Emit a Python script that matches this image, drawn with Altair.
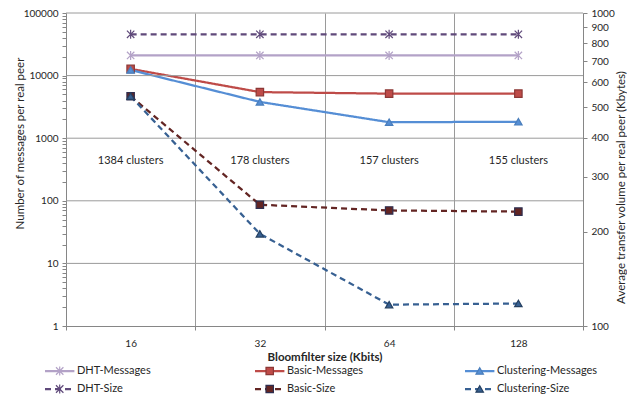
import altair as alt
import pandas as pd

# ---------------- data ----------------
categories = ["16", "32", "64", "128"]
series_names = ["DHT-Messages", "Basic-Messages", "Clustering-Messages",
                "DHT-Size", "Basic-Size", "Clustering-Size"]
dht_messages = [21000, 21000, 21000, 21000]
basic_messages = [12800, 5450, 5150, 5150]
clustering_messages = [12300, 3800, 1800, 1830]
dht_size = [855, 855, 855, 855]
basic_size = [542, 244, 234, 232]
clustering_size = [542, 197, 117, 118]
cluster_labels = ["1384  clusters", "178  clusters", "157 clusters", "155 clusters"]
cluster_label_level = 430
left_major_ticks = [1, 10, 100, 1000, 10000, 100000]
right_ticks = [100, 200, 300, 400, 500, 600, 700, 800, 900, 1000]

# ---------------- styles ----------------
line_colors = ["#B3A2C7", "#BE4B48", "#558ED5", "#604A7B", "#632523", "#376092"]
marker_borders = ["#B3A2C7", "#8C3836", "#4A7EBB", "#604A7B", "#2E2E4F", "#254061"]
dashes = [[1, 0], [1, 0], [1, 0], [6, 4], [6, 4], [6, 4]]
asterisk = "M-1,-1L1,1M-1,1L1,-1M0,-1.2L0,1.2"
shapes = [asterisk, "square", "triangle-up", asterisk, "square", "triangle-up"]
GRID = "#9A9A9A"
AXIS = "#868686"
TXT = "#262626"

msgs_df = pd.DataFrame({
    "cat": categories * 3,
    "series": [s for s in series_names[:3] for _ in categories],
    "value": dht_messages + basic_messages + clustering_messages,
})
size_df = pd.DataFrame({
    "cat": categories * 3,
    "series": [s for s in series_names[3:] for _ in categories],
    "value": dht_size + basic_size + clustering_size,
})
label_df = pd.DataFrame({"cat": categories, "label": cluster_labels,
                         "value": [cluster_label_level] * len(categories)})
grid_df = pd.DataFrame({"value": left_major_ticks[1:]})
legend_df = pd.DataFrame({
    "series": series_names,
    "col": [i % 3 for i in range(len(series_names))],
    "row": [i // 3 for i in range(len(series_names))],
})

left_tick_values = [m * 10 ** k for k in range(5) for m in range(1, 10)] + [100000]

color_scale = alt.Scale(domain=series_names, range=line_colors)
stroke_scale = alt.Scale(domain=series_names, range=marker_borders)
dash_scale = alt.Scale(domain=series_names, range=dashes)
shape_scale = alt.Scale(domain=series_names, range=shapes)

x_enc = alt.X(
    "cat:O",
    bandPosition=0.5,
    scale=alt.Scale(type="band", domain=categories, paddingInner=0, paddingOuter=0),
    axis=alt.Axis(
        title="Bloomfilter size (Kbits)", titleFontWeight="bold", titleFontSize=11.5,
        titlePadding=3, labelAngle=0, labelFontSize=10, labelPadding=8,
        tickBand="extent", grid=True, gridColor=GRID, gridWidth=1,
        domainColor=AXIS, tickColor=AXIS, tickSize=4,
    ),
)

y_left_scale = alt.Scale(type="log", domain=[1, 100000])
y_right_scale = alt.Scale(type="log", domain=[100, 1000])

left_axis = alt.Axis(
    orient="left", title="Number of messages per real peer", titleFontSize=11.5,
    titleFontWeight="normal", titleAngle=270, titleBaseline="middle",
    titleX=-46, titleY=130,
    values=left_tick_values,
    labelExpr="indexof([1,10,100,1000,10000,100000], datum.value) >= 0 ? format(datum.value, 'd') : ''",
    labelOverlap=False, labelFontSize=10, labelPadding=4, tickSize=4,
    grid=False, domainColor=AXIS, tickColor=AXIS,
)
y_left = alt.Y("value:Q", scale=y_left_scale, axis=left_axis)
y_right = alt.Y(
    "value:Q", scale=y_right_scale,
    axis=alt.Axis(
        orient="right", title="Average transfer volume per real peer (Kbytes)",
        titleFontSize=11.5, titleFontWeight="normal", titleAngle=270,
        titleBaseline="middle", titleX=38, titleY=174,
        values=right_ticks, format="d", labelOverlap=False, labelFontSize=10,
        labelPadding=4, tickSize=4, grid=False, domainColor=AXIS, tickColor=AXIS,
    ),
)


def series_layers(df, y):
    line = alt.Chart(df).mark_line(strokeWidth=2.25).encode(
        x=x_enc, y=y,
        color=alt.Color("series:N", scale=color_scale, legend=None),
        strokeDash=alt.StrokeDash("series:N", scale=dash_scale, legend=None),
        detail="series:N",
    )
    pts = alt.Chart(df).mark_point(filled=True, size=55, strokeWidth=1.2, opacity=1).encode(
        x=x_enc, y=y,
        color=alt.Color("series:N", scale=color_scale, legend=None),
        stroke=alt.Stroke("series:N", scale=stroke_scale, legend=None),
        shape=alt.Shape("series:N", scale=shape_scale, legend=None),
    )
    return line, pts


ml, mp = series_layers(msgs_df, y_left)
sl, sp = series_layers(size_df, y_right)
grid = alt.Chart(grid_df).mark_rule(color=GRID, strokeWidth=1).encode(y=y_left)
labels = alt.Chart(label_df).mark_text(fontSize=11, color=TXT, font="Lato").encode(
    x=x_enc, y=y_left, text="label:N"
)

left = alt.layer(ml, grid, mp, labels)
right = alt.layer(sl, sp)
main = alt.layer(left, right).resolve_scale(y="independent")

# ---------------- legend ----------------
leg_x = alt.Scale(domain=[0, 3], range=[-21, 609])
leg_y = alt.Scale(domain=[0, 1], range=[358, 376])
leg_base = alt.Chart(legend_df).transform_calculate(
    xs="datum.col", xe="datum.col + 0.14", xm="datum.col + 0.07", xt="datum.col + 0.152"
)
leg_lines = leg_base.mark_rule(strokeWidth=2.25).encode(
    x=alt.X("xs:Q", scale=leg_x, axis=None), x2="xe:Q",
    y=alt.Y("row:Q", scale=leg_y, axis=None),
    color=alt.Color("series:N", scale=color_scale, legend=None),
    strokeDash=alt.StrokeDash("series:N", scale=dash_scale, legend=None),
)
leg_pts = leg_base.mark_point(filled=True, size=55, strokeWidth=1.2, opacity=1).encode(
    x=alt.X("xm:Q", scale=leg_x, axis=None),
    y=alt.Y("row:Q", scale=leg_y, axis=None),
    color=alt.Color("series:N", scale=color_scale, legend=None),
    stroke=alt.Stroke("series:N", scale=stroke_scale, legend=None),
    shape=alt.Shape("series:N", scale=shape_scale, legend=None),
)
leg_text = leg_base.mark_text(align="left", baseline="middle", fontSize=11, color=TXT, font="Lato").encode(
    x=alt.X("xt:Q", scale=leg_x, axis=None),
    y=alt.Y("row:Q", scale=leg_y, axis=None),
    text="series:N",
)
legend = alt.layer(leg_lines, leg_pts, leg_text)

chart = (
    alt.layer(main, legend)
    .resolve_scale(x="independent", y="independent")
    .properties(width=517, height=313, padding={"left": 5, "top": 0, "right": 0, "bottom": 0})
    .configure(font="Lato")
    .configure_view(stroke=None)
    .configure_axis(labelFont="Lato", titleFont="Lato", labelColor=TXT, titleColor=TXT)
)

chart.save("out.html", embed_options={"renderer": "svg", "actions": False})
